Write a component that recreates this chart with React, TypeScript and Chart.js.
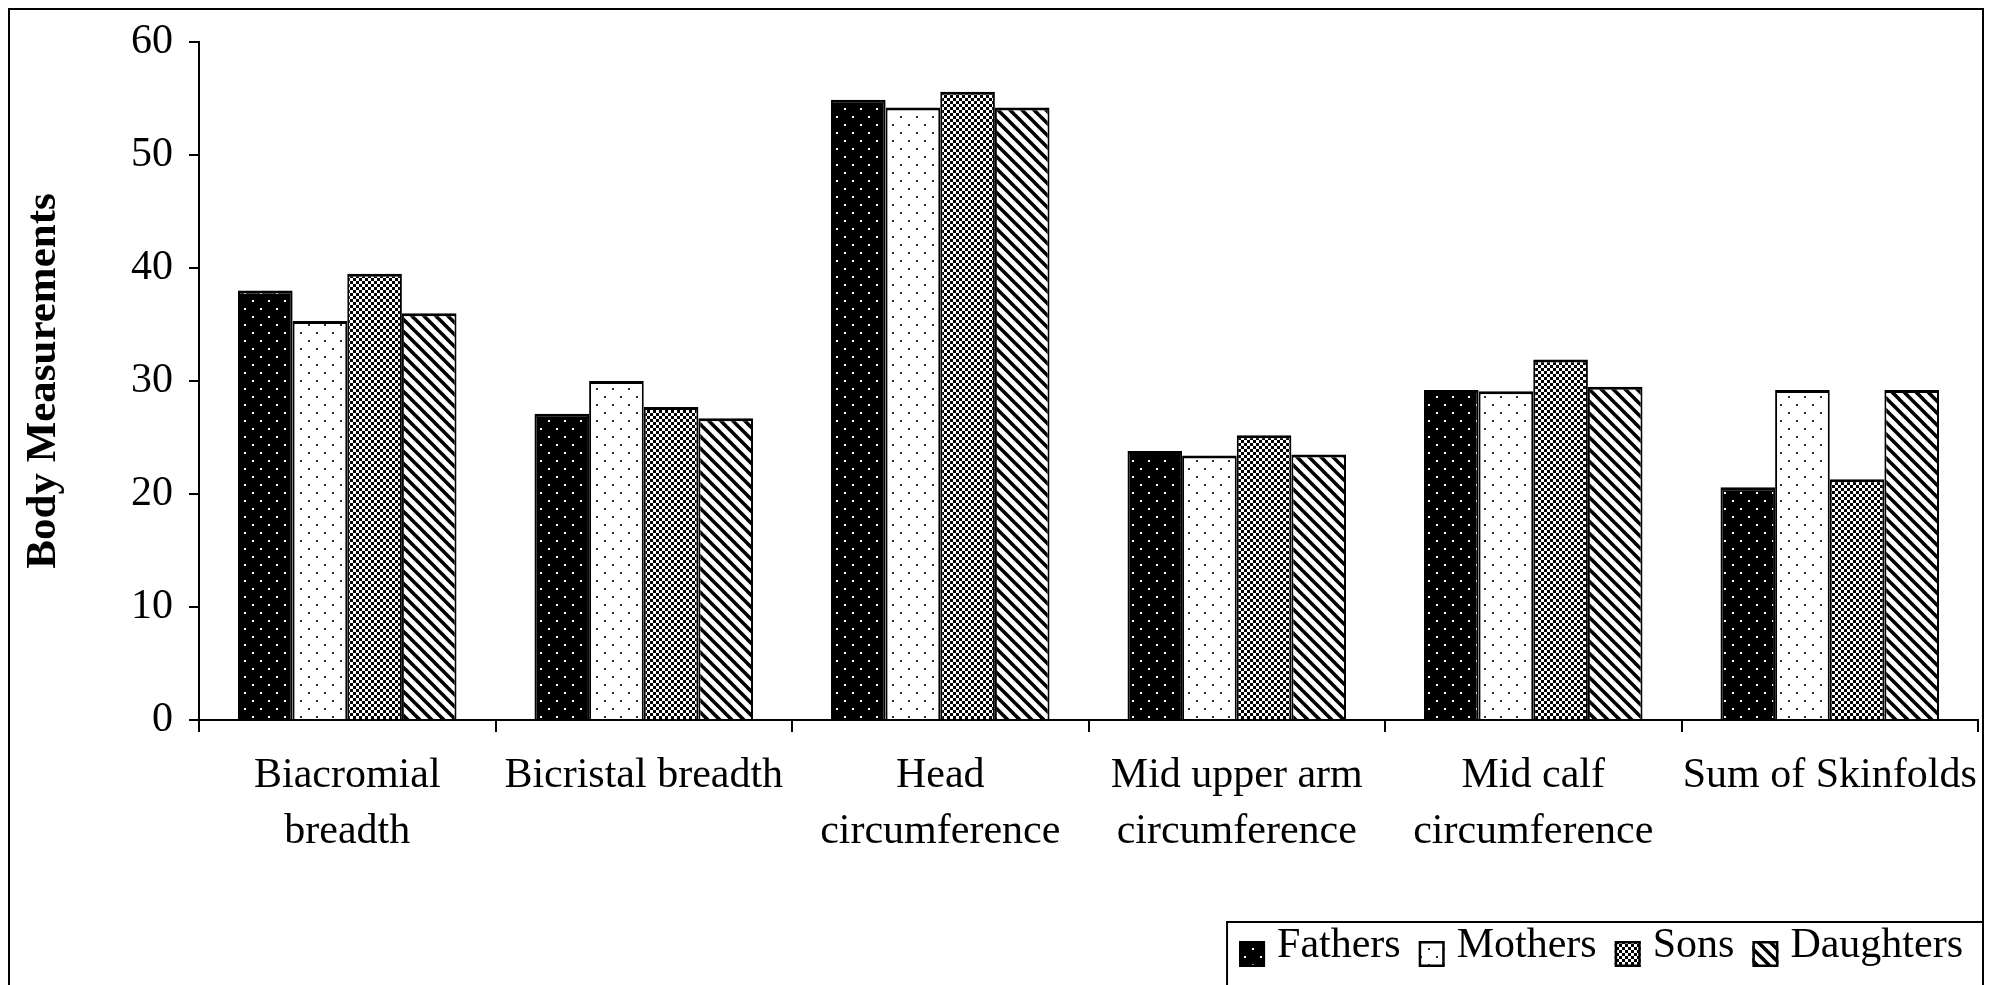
import React, { useEffect, useRef } from 'react';
import { Chart, registerables } from 'chart.js';

Chart.register(...registerables);

const categories: (string | string[])[] = [
  ['Biacromial', 'breadth'],
  'Bicristal breadth',
  ['Head', 'circumference'],
  ['Mid upper arm', 'circumference'],
  ['Mid calf', 'circumference'],
  'Sum of Skinfolds',
];
const seriesNames = ['Fathers', 'Mothers', 'Sons', 'Daughters'];
const fathers = [38.0, 27.1, 54.9, 23.8, 29.2, 20.6];
const mothers = [35.3, 30.0, 54.2, 23.4, 29.1, 29.2];
const sons = [39.5, 27.7, 55.6, 25.2, 31.9, 21.3];
const daughters = [36.0, 26.7, 54.2, 23.5, 29.5, 29.2];
const yMin = 0;
const yMax = 60;
const yStep = 10;
const yTitle = 'Body Measurements';

const FONT = "'Liberation Serif', 'Times New Roman', Times, serif";

function makeTile(w: number, h: number, draw: (c: CanvasRenderingContext2D) => void) {
  const t = document.createElement('canvas');
  t.width = w;
  t.height = h;
  const c = t.getContext('2d')!;
  draw(c);
  return t;
}

function makePatterns(ctx: CanvasRenderingContext2D) {
  const dotsOnBlack = makeTile(16, 16, (c) => {
    c.fillStyle = '#000';
    c.fillRect(0, 0, 16, 16);
    c.fillStyle = '#fff';
    c.fillRect(4, 4, 2, 2);
    c.fillRect(12, 12, 2, 2);
  });
  const dotsOnWhite = makeTile(16, 16, (c) => {
    c.fillStyle = '#fff';
    c.fillRect(0, 0, 16, 16);
    c.fillStyle = '#333';
    c.fillRect(4, 4, 2, 2);
    c.fillRect(12, 12, 2, 2);
  });
  const checker = makeTile(6, 6, (c) => {
    c.fillStyle = '#000';
    c.fillRect(0, 0, 6, 6);
    c.fillStyle = '#fff';
    c.fillRect(0, 0, 3, 3);
    c.fillRect(3, 3, 3, 3);
  });
  const stripes = makeTile(12, 12, (c) => {
    c.fillStyle = '#fff';
    c.fillRect(0, 0, 12, 12);
    c.strokeStyle = '#000';
    c.lineWidth = 3.6;
    for (const off of [-12, 0, 12]) {
      c.beginPath();
      c.moveTo(off - 2, -2);
      c.lineTo(off + 14, 14);
      c.stroke();
    }
  });
  return [
    ctx.createPattern(dotsOnBlack, 'repeat')!,
    ctx.createPattern(dotsOnWhite, 'repeat')!,
    ctx.createPattern(checker, 'repeat')!,
    ctx.createPattern(stripes, 'repeat')!,
  ];
}

// Frame around the whole figure plus a boxed legend in the lower right corner.
const frameLegendPlugin = {
  id: 'frameLegend',
  afterDraw(chart: any) {
    const ctx = chart.ctx as CanvasRenderingContext2D;
    const W = chart.width;
    const H = chart.height;
    ctx.save();
    ctx.strokeStyle = '#000';
    ctx.lineWidth = 2;
    ctx.beginPath();
    ctx.moveTo(1, H + 5);
    ctx.lineTo(1, 1);
    ctx.lineTo(W - 1, 1);
    ctx.lineTo(W - 1, H + 5);
    ctx.stroke();

    // legend
    const boxSize = 26;
    const boxGap = 12;
    const itemGap = 18;
    const textRight = W - 21;
    const textMid = 938;
    const boxTop = 933;
    ctx.font = `42px ${FONT}`;
    ctx.textBaseline = 'middle';
    ctx.textAlign = 'left';
    const datasets = chart.data.datasets;
    const widths = datasets.map((d: any) => ctx.measureText(d.label).width);
    let total = 0;
    widths.forEach((w: number, i: number) => {
      total += boxSize + boxGap + w + (i > 0 ? itemGap : 0);
    });
    let x = textRight - total;
    // legend frame
    ctx.lineWidth = 2;
    ctx.beginPath();
    ctx.moveTo(x - 12, H + 5);
    ctx.lineTo(x - 12, 914);
    ctx.lineTo(W - 1, 914);
    ctx.stroke();
    datasets.forEach((d: any, i: number) => {
      ctx.fillStyle = d.backgroundColor;
      ctx.fillRect(x, boxTop, boxSize, boxSize);
      ctx.lineWidth = 2.5;
      ctx.strokeStyle = '#000';
      ctx.strokeRect(x + 1.25, boxTop + 1.25, boxSize - 2.5, boxSize - 2.5);
      x += boxSize + boxGap;
      ctx.fillStyle = '#000';
      ctx.fillText(d.label, x, textMid);
      x += widths[i] + itemGap;
    });
    ctx.restore();
  },
};

export default function App() {
  const ref = useRef<HTMLCanvasElement | null>(null);

  useEffect(() => {
    document.documentElement.style.overflow = 'hidden';
    const canvas = ref.current!;
    const ctx = canvas.getContext('2d')!;
    const patterns = makePatterns(ctx);
    const seriesValues = [fathers, mothers, sons, daughters];

    const chart = new Chart(ctx, {
      type: 'bar',
      data: {
        labels: categories,
        datasets: seriesNames.map((name, i) => ({
          label: name,
          data: seriesValues[i],
          backgroundColor: patterns[i],
          borderColor: '#000',
          borderWidth: { top: 3, left: 2, right: 2, bottom: 0 },
          categoryPercentage: 0.737,
          barPercentage: 1.0,
        })),
      },
      options: {
        animation: false,
        responsive: false,
        devicePixelRatio: 1,
        layout: { padding: { left: 4, top: 34, right: 6, bottom: 68 } },
        plugins: {
          tooltip: { enabled: false },
          legend: { display: false },
        },
        scales: {
          x: {
            grid: {
              display: true,
              offset: true,
              drawOnChartArea: false,
              drawTicks: true,
              tickLength: 12,
              color: '#000',
              lineWidth: 2,
            },
            border: { display: true, color: '#000', width: 2 },
            ticks: {
              color: '#000',
              font: { family: FONT, size: 42, lineHeight: 1.333 },
              padding: 16,
              maxRotation: 0,
              autoSkip: false,
            },
            afterFit: (scale: any) => {
              scale.height = 197;
              scale.paddingLeft = 0;
              scale.paddingRight = 0;
            },
          },
          y: {
            min: yMin,
            max: yMax,
            grid: {
              display: true,
              drawOnChartArea: false,
              drawTicks: true,
              tickLength: 10,
              color: '#000',
              lineWidth: 2,
            },
            border: { display: true, color: '#000', width: 2 },
            ticks: {
              stepSize: yStep,
              color: '#000',
              font: { family: FONT, size: 42 },
              padding: 16,
            },
            title: {
              display: true,
              text: yTitle,
              color: '#000',
              font: { family: FONT, size: 43, weight: 'bold' },
              padding: { top: 6, bottom: 0 },
            },
            afterFit: (scale: any) => {
              scale.width = 187;
              scale.paddingTop = 0;
              scale.paddingBottom = 0;
            },
          },
        },
      },
      plugins: [frameLegendPlugin],
    } as any);

    return () => chart.destroy();
  }, []);

  return (
    <div style={{ width: 1976, height: 977 }}>
      <canvas ref={ref} width={1976} height={977} style={{ display: 'block', width: 1976, height: 977 }} />
    </div>
  );
}
